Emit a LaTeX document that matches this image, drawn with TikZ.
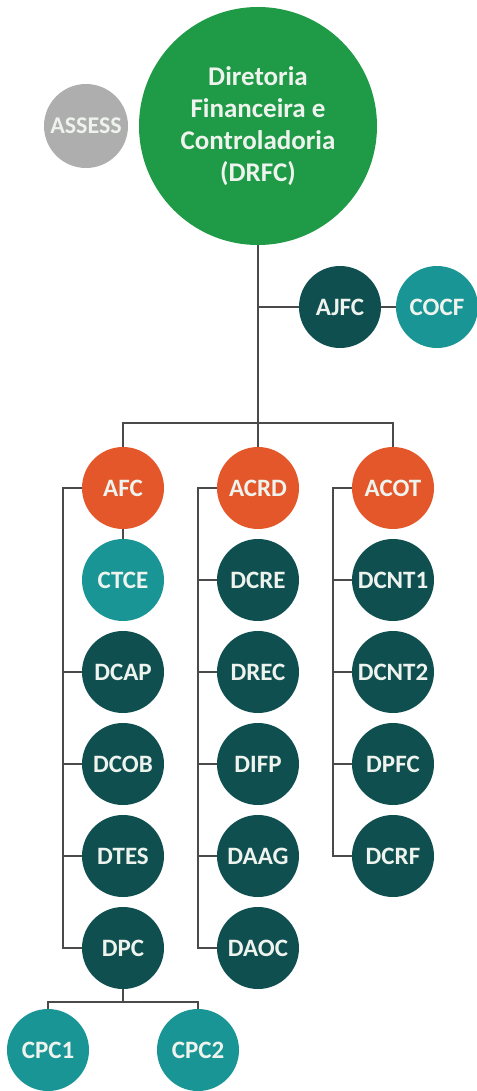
\documentclass[tikz,border=0pt]{standalone}
\usepackage{fontspec}
\setmainfont{Carlito}
\usetikzlibrary{positioning}

\definecolor{verde}{HTML}{1F9A46}
\definecolor{cinza}{HTML}{AEAEAE}
\definecolor{laranja}{HTML}{E4572A}
\definecolor{petroleo}{HTML}{0F4F50}
\definecolor{turquesa}{HTML}{1A9595}
\definecolor{linha}{HTML}{4A4A4A}
\definecolor{letra}{HTML}{EEF3EE}

\tikzset{
  unidade/.style={circle, inner sep=0pt, minimum size=82pt, text=letra,
    font=\bfseries\fontsize{25}{28}\selectfont},
  diretoria/.style={unidade, fill=verde, minimum size=238pt, align=center,
    font=\bfseries\fontsize{27}{32}\selectfont},
  assessoria/.style={unidade, fill=cinza, minimum size=84pt,
    font=\bfseries\fontsize{24}{28}\selectfont},
  area/.style={unidade, fill=laranja},
  divisao/.style={unidade, fill=petroleo},
  coordenacao/.style={unidade, fill=turquesa},
  ligacao/.style={draw=linha, line width=2.2pt}
}

\begin{document}
\begin{tikzpicture}[x=1pt, y=-1pt,
    node distance=92pt,
    on grid]

  \useasboundingbox (0,0) rectangle (476,1091);

  \node[diretoria]
    (DRFC) at (258,126) {Diretoria\\Financeira e\\Controladoria\\(DRFC)};
  \node[assessoria]
    (ASSESS) [left=172pt of DRFC] {ASSESS};
  \node[divisao]
    (AJFC) [below right=181pt and 82pt of DRFC] {AJFC};
  \node[coordenacao]
    (COCF) [right=97pt of AJFC] {COCF};

  \node[area]
    (ACRD) [below=362pt of DRFC] {ACRD};
  \node[area]
    (AFC) [left=135pt of ACRD] {AFC};
  \node[area]
    (ACOT) [right=135pt of ACRD] {ACOT};

  \node[coordenacao] (CTCE) [below=of AFC] {CTCE};
  \node[divisao] (DCAP) [below=of CTCE] {DCAP};
  \node[divisao] (DCOB) [below=of DCAP] {DCOB};
  \node[divisao] (DTES) [below=of DCOB] {DTES};
  \node[divisao] (DPC) [below=of DTES] {DPC};

  \node[divisao] (DCRE) [below=of ACRD] {DCRE};
  \node[divisao] (DREC) [below=of DCRE] {DREC};
  \node[divisao] (DIFP) [below=of DREC] {DIFP};
  \node[divisao] (DAAG) [below=of DIFP] {DAAG};
  \node[divisao] (DAOC) [below=of DAAG] {DAOC};

  \node[divisao] (DCNT1) [below=of ACOT] {DCNT1};
  \node[divisao] (DCNT2) [below=of DCNT1] {DCNT2};
  \node[divisao] (DPFC) [below=of DCNT2] {DPFC};
  \node[divisao] (DCRF) [below=of DPFC] {DCRF};

  \node[coordenacao]
    (CPC1) [below left=102pt and 75pt of DPC] {CPC1};
  \node[coordenacao]
    (CPC2) [below right=102pt and 75pt of DPC] {CPC2};

  \coordinate[above=65pt of ACRD] (barra);
  \coordinate[left=60pt of AFC] (eixoAFC);
  \coordinate[left=60pt of ACRD] (eixoACRD);
  \coordinate[left=60pt of ACOT] (eixoACOT);
  \coordinate[below=54pt of DPC] (barraCPC);

  \path[ligacao]
    (DRFC) -- (ACRD)
    (AJFC) -- (AJFC -| DRFC)
    (AJFC) -- (COCF)
    (AFC) |- (barra) -| (ACOT)
    (AFC) -- (CTCE)
    (AFC) -- (eixoAFC) |- (DPC)
    (ACRD) -- (eixoACRD) |- (DAOC)
    (ACOT) -- (eixoACOT) |- (DCRF)
    (DPC) -- (barraCPC)
    (CPC1) |- (barraCPC) -| (CPC2);

  \foreach \u in {DCAP,DCOB,DTES}
    \path[ligacao] (\u) -- (\u -| eixoAFC);
  \foreach \u in {DCRE,DREC,DIFP,DAAG}
    \path[ligacao] (\u) -- (\u -| eixoACRD);
  \foreach \u in {DCNT1,DCNT2,DPFC}
    \path[ligacao] (\u) -- (\u -| eixoACOT);

\end{tikzpicture}
\end{document}
